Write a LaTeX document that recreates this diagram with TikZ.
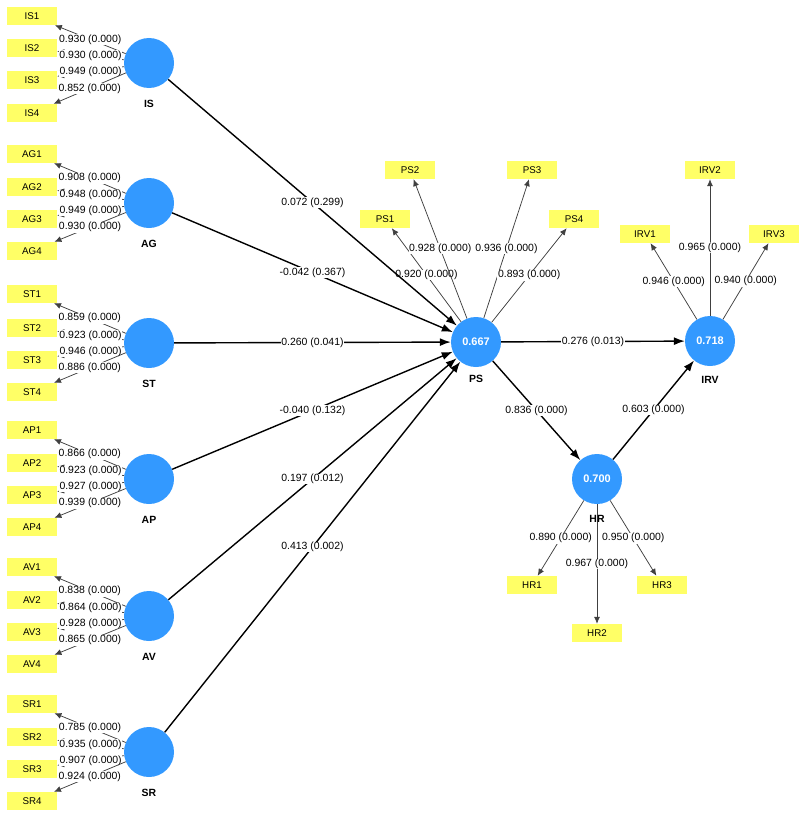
\documentclass[tikz,border=0pt]{standalone}
\usepackage{fontspec}
\setmainfont{Liberation Sans}
\usetikzlibrary{arrows.meta}
\definecolor{lvblue}{HTML}{3399FF}
\definecolor{indyel}{HTML}{FFFF66}
\begin{document}
\begin{tikzpicture}[x=1bp,y=-1bp,
  lv/.style={circle,fill=lvblue,minimum size=50bp,inner sep=0pt,text=white,font=\bfseries\fontsize{11}{12}\selectfont},
  mv/.style={fill=indyel,minimum width=50bp,minimum height=18bp,inner sep=0pt,font=\fontsize{9.8}{11}\selectfont},
  lvname/.style={font=\bfseries\fontsize{10.5}{12}\selectfont},
  strpath/.style={draw=black,line width=1.4bp,-{Latex[length=11bp,width=8bp]}},
  load/.style={draw=black!75,line width=0.75bp,-{Latex[length=7bp,width=6bp]}},
  coef/.style={fill=white,inner sep=0.6bp,font=\fontsize{10.5}{12}\selectfont},
]
\useasboundingbox (0,0) rectangle (806,815);
% latent variables
\node[lv] (IS) at (149,63) {};
\node[lv] (AG) at (149,203) {};
\node[lv] (ST) at (149,343) {};
\node[lv] (AP) at (149,479) {};
\node[lv] (AV) at (149,616) {};
\node[lv] (SR) at (149,752) {};
\node[lv] (PS) at (476,342) {0.667};
\node[lv] (IRV) at (710,341) {0.718};
\node[lv] (HR) at (597,479) {0.700};
% indicators
\foreach \n/\y in {IS1/16,IS2/48,IS3/80,IS4/113,AG1/154,AG2/187,AG3/219,AG4/251,ST1/294,ST2/328,ST3/360,ST4/392,AP1/430,AP2/463,AP3/495,AP4/527,AV1/567,AV2/600,AV3/632,AV4/664,SR1/704,SR2/737,SR3/769,SR4/801}
  \node[mv] (\n) at (32,\y) {\n};
\node[mv] (PS1) at (385,219) {PS1};
\node[mv] (PS2) at (410,170) {PS2};
\node[mv] (PS3) at (532,170) {PS3};
\node[mv] (PS4) at (574,219) {PS4};
\node[mv] (IRV1) at (645,234) {IRV1};
\node[mv] (IRV2) at (710,170) {IRV2};
\node[mv] (IRV3) at (774,234) {IRV3};
\node[mv] (HR1) at (532,585) {HR1};
\node[mv] (HR2) at (597,633) {HR2};
\node[mv] (HR3) at (662,585) {HR3};
% loadings
\draw[load] (IS) -- node[coef]{0.930 (0.000)} (IS1);
\draw[load] (IS) -- node[coef]{0.930 (0.000)} (IS2);
\draw[load] (IS) -- node[coef]{0.949 (0.000)} (IS3);
\draw[load] (IS) -- node[coef]{0.852 (0.000)} (IS4);
\draw[load] (AG) -- node[coef]{0.908 (0.000)} (AG1);
\draw[load] (AG) -- node[coef]{0.948 (0.000)} (AG2);
\draw[load] (AG) -- node[coef]{0.949 (0.000)} (AG3);
\draw[load] (AG) -- node[coef]{0.930 (0.000)} (AG4);
\draw[load] (ST) -- node[coef]{0.859 (0.000)} (ST1);
\draw[load] (ST) -- node[coef]{0.923 (0.000)} (ST2);
\draw[load] (ST) -- node[coef]{0.946 (0.000)} (ST3);
\draw[load] (ST) -- node[coef]{0.886 (0.000)} (ST4);
\draw[load] (AP) -- node[coef]{0.866 (0.000)} (AP1);
\draw[load] (AP) -- node[coef]{0.923 (0.000)} (AP2);
\draw[load] (AP) -- node[coef]{0.927 (0.000)} (AP3);
\draw[load] (AP) -- node[coef]{0.939 (0.000)} (AP4);
\draw[load] (AV) -- node[coef]{0.838 (0.000)} (AV1);
\draw[load] (AV) -- node[coef]{0.864 (0.000)} (AV2);
\draw[load] (AV) -- node[coef]{0.928 (0.000)} (AV3);
\draw[load] (AV) -- node[coef]{0.865 (0.000)} (AV4);
\draw[load] (SR) -- node[coef]{0.785 (0.000)} (SR1);
\draw[load] (SR) -- node[coef]{0.935 (0.000)} (SR2);
\draw[load] (SR) -- node[coef]{0.907 (0.000)} (SR3);
\draw[load] (SR) -- node[coef]{0.924 (0.000)} (SR4);
\draw[load] (PS) -- node[coef]{0.920 (0.000)} (PS1);
\draw[load] (PS) -- node[coef]{0.928 (0.000)} (PS2);
\draw[load] (PS) -- node[coef]{0.936 (0.000)} (PS3);
\draw[load] (PS) -- node[coef]{0.893 (0.000)} (PS4);
\draw[load] (IRV) -- node[coef]{0.946 (0.000)} (IRV1);
\draw[load] (IRV) -- node[coef]{0.965 (0.000)} (IRV2);
\draw[load] (IRV) -- node[coef]{0.940 (0.000)} (IRV3);
\draw[load] (HR) -- node[coef]{0.890 (0.000)} (HR1);
\draw[load] (HR) -- node[coef]{0.967 (0.000)} (HR2);
\draw[load] (HR) -- node[coef]{0.950 (0.000)} (HR3);
% structural paths
\draw[strpath] (IS) -- node[coef]{0.072 (0.299)} (PS);
\draw[strpath] (AG) -- node[coef]{-0.042 (0.367)} (PS);
\draw[strpath] (ST) -- node[coef]{0.260 (0.041)} (PS);
\draw[strpath] (AP) -- node[coef]{-0.040 (0.132)} (PS);
\draw[strpath] (AV) -- node[coef]{0.197 (0.012)} (PS);
\draw[strpath] (SR) -- node[coef]{0.413 (0.002)} (PS);
\draw[strpath] (PS) -- node[coef]{0.276 (0.013)} (IRV);
\draw[strpath] (PS) -- node[coef]{0.836 (0.000)} (HR);
\draw[strpath] (HR) -- node[coef]{0.603 (0.000)} (IRV);
% names
\node[lvname] (nIS) at (149,104) {IS};
\node[lvname] (nAG) at (149,244) {AG};
\node[lvname] (nST) at (149,384) {ST};
\node[lvname] (nAP) at (149,520) {AP};
\node[lvname] (nAV) at (149,657) {AV};
\node[lvname] (nSR) at (149,793) {SR};
\node[lvname] (nPS) at (476,379) {PS};
\node[lvname] (nIRV) at (710,380) {IRV};
\node[lvname] (nHR) at (597,519) {HR};
\end{tikzpicture}
\end{document}
